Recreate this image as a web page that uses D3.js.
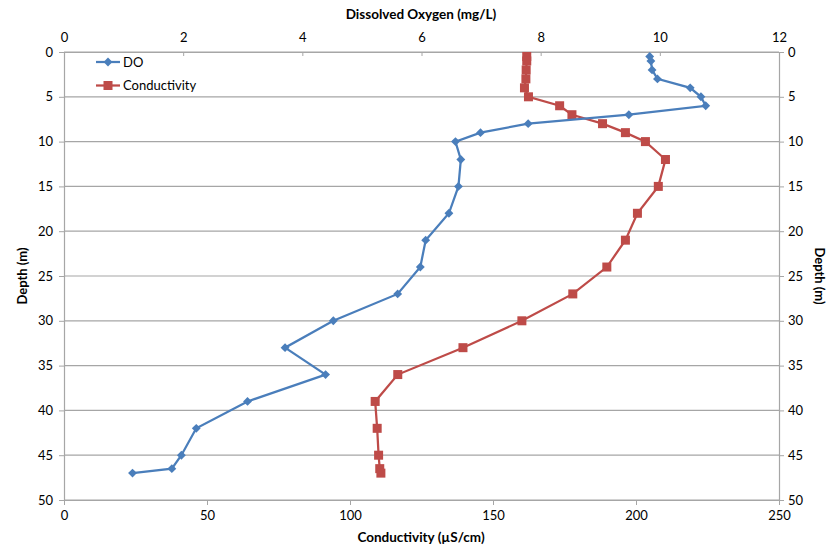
<!DOCTYPE html>
<html><head><meta charset="utf-8">
<script src="https://cdn.jsdelivr.net/npm/d3@7"></script>
<style>body{margin:0;background:#fff}svg text{font-family:Lato,"Open Sans",sans-serif}</style>
</head><body><svg id="c" width="836" height="545"></svg>
<script>
const depths = [0.5,1,2,3,4,5,6,7,8,9,10,12,15,18,21,24,27,30,33,36,39,42,45,46.5,47];
const doValues = [9.83,9.85,9.87,9.96,10.51,10.69,10.77,9.48,7.79,6.99,6.57,6.66,6.62,6.46,6.07,5.98,5.60,4.52,3.71,4.39,3.08,2.22,1.97,1.81,1.15];
const condValues = [161.8,161.8,161.6,161.5,161.0,162.4,173.3,177.6,188.3,196.3,203.3,210.3,207.8,200.5,196.3,189.8,177.9,160.1,139.5,116.7,108.8,109.5,110.0,110.4,110.8];
const depthTicks = [0,5,10,15,20,25,30,35,40,45,50];
const doTicks = [0,2,4,6,8,10,12];
const condTicks = [0,50,100,150,200,250];

const svg = d3.select("#c");
const L=64, R=779, T=52, B=500;
const y = d3.scaleLinear().domain([0,50]).range([T,B]);
const xDO = d3.scaleLinear().domain([0,12]).range([L,R]);
const xC = d3.scaleLinear().domain([0,250]).range([L,R]);
const grid="#a6a6a6";

svg.append("g").selectAll("line").data(depthTicks).join("line")
  .attr("x1",L).attr("x2",R).attr("y1",d=>y(d)).attr("y2",d=>y(d))
  .attr("stroke",grid).attr("stroke-width",1.2);

function styleAxis(g){
  g.select(".domain").attr("stroke",grid).attr("stroke-width",1.2);
  g.selectAll(".tick line").attr("stroke",grid);
  g.selectAll("text").attr("font-size",13).attr("fill","#000");
}
svg.append("g").attr("transform",`translate(${L},0)`)
  .call(d3.axisLeft(y).tickValues(depthTicks).tickSize(5).tickSizeOuter(0).tickPadding(6)).call(styleAxis);
svg.append("g").attr("transform",`translate(${R},0)`)
  .call(d3.axisRight(y).tickValues(depthTicks).tickSize(5).tickSizeOuter(0).tickPadding(4)).call(styleAxis);
svg.append("g").attr("transform",`translate(0,${B})`)
  .call(d3.axisBottom(xC).tickValues(condTicks).tickSize(5).tickSizeOuter(0).tickPadding(6)).call(styleAxis);
svg.append("g").attr("transform",`translate(0,${T})`)
  .call(d3.axisTop(xDO).tickValues(doTicks).tickSize(-4).tickSizeOuter(0).tickPadding(10)).call(styleAxis);

svg.append("text").attr("x",421).attr("y",19).attr("text-anchor","middle").attr("font-weight","bold").attr("font-size",13.5).text("Dissolved Oxygen (mg/L)");
svg.append("text").attr("x",421).attr("y",542).attr("text-anchor","middle").attr("font-weight","bold").attr("font-size",13.5).text("Conductivity (µS/cm)");
svg.append("text").attr("transform","translate(27,276) rotate(-90)").attr("text-anchor","middle").attr("font-weight","bold").attr("font-size",13).text("Depth (m)");
svg.append("text").attr("transform","translate(815,276) rotate(90)").attr("text-anchor","middle").attr("font-weight","bold").attr("font-size",13).text("Depth (m)");

const blue="#4a7ebb", red="#be4b48";
const doData = depths.map((d,i)=>({d, v:doValues[i]}));
const cData = depths.map((d,i)=>({d, v:condValues[i]}));

svg.append("path").datum(cData).attr("fill","none").attr("stroke",red).attr("stroke-width",2.25)
  .attr("d",d3.line().x(p=>xC(p.v)).y(p=>y(p.d)));
svg.append("g").selectAll("rect").data(cData).join("rect")
  .attr("x",p=>xC(p.v)-4.5).attr("y",p=>y(p.d)-4.5).attr("width",9).attr("height",9).attr("fill",red);

svg.append("path").datum(doData).attr("fill","none").attr("stroke",blue).attr("stroke-width",2.25)
  .attr("d",d3.line().x(p=>xDO(p.v)).y(p=>y(p.d)));
const diamond = d3.symbol().type(d3.symbolDiamond2).size(50);
svg.append("g").selectAll("path").data(doData).join("path")
  .attr("transform",p=>`translate(${xDO(p.v)},${y(p.d)})`).attr("d",diamond).attr("fill",blue);

const leg=[{n:"DO",c:blue,s:"d"},{n:"Conductivity",c:red,s:"s"}];
leg.forEach((e,i)=>{
  const ly=62+i*23.5;
  svg.append("line").attr("x1",96).attr("x2",120).attr("y1",ly).attr("y2",ly).attr("stroke",e.c).attr("stroke-width",2.25);
  if(e.s==="d") svg.append("path").attr("transform",`translate(108,${ly})`).attr("d",diamond).attr("fill",e.c);
  else svg.append("rect").attr("x",103.5).attr("y",ly-4.5).attr("width",9).attr("height",9).attr("fill",e.c);
  svg.append("text").attr("x",123).attr("y",ly+4.5).attr("font-size",13).text(e.n);
});
</script></body></html>
